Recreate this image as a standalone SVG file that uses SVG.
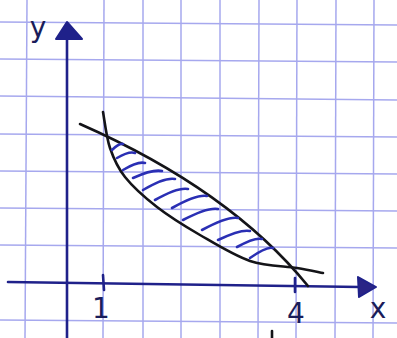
<svg xmlns="http://www.w3.org/2000/svg" width="397" height="338" viewBox="0 0 397 338">
<style>
.grid{stroke:#a6a8ee;stroke-width:1.5;fill:none}
.axis{stroke:#1f218a;stroke-width:2.6;fill:none;stroke-linecap:round}
.curve{stroke:#141418;stroke-width:2.6;fill:none;stroke-linecap:round}
.hatch{stroke:#2a2fb4;stroke-width:2.6;fill:none;stroke-linecap:round}
.lbl{font-family:"DejaVu Sans","Liberation Sans",sans-serif;fill:#1a1c5a;text-anchor:middle}
</style>
<rect width="397" height="338" fill="#ffffff"/>
<g id="grid">
<line class="grid" x1="27" y1="0" x2="25" y2="338"/>
<line class="grid" x1="104" y1="0" x2="103" y2="338"/>
<line class="grid" x1="143" y1="0" x2="143" y2="338"/>
<line class="grid" x1="181" y1="0" x2="181" y2="338"/>
<line class="grid" x1="220" y1="0" x2="220" y2="338"/>
<line class="grid" x1="259" y1="0" x2="258" y2="338"/>
<line class="grid" x1="297" y1="0" x2="296" y2="338"/>
<line class="grid" x1="336" y1="0" x2="335" y2="338"/>
<line class="grid" x1="374" y1="0" x2="373" y2="338"/>
<line class="grid" x1="0" y1="22" x2="397" y2="25"/>
<line class="grid" x1="0" y1="59" x2="397" y2="62"/>
<line class="grid" x1="0" y1="96" x2="397" y2="100"/>
<line class="grid" x1="0" y1="134" x2="397" y2="137"/>
<line class="grid" x1="0" y1="171" x2="397" y2="174"/>
<line class="grid" x1="0" y1="208" x2="397" y2="211"/>
<line class="grid" x1="0" y1="245" x2="397" y2="248"/>
<line class="grid" x1="0" y1="320" x2="397" y2="323"/>
</g>
<g id="axes">
<line class="axis" x1="67" y1="32" x2="67" y2="338"/>
<path d="M56,39 L67,22 L82,39 Z" fill="#1f218a" stroke="#1f218a" stroke-width="2" stroke-linejoin="round"/>
<line class="axis" x1="8" y1="282" x2="360" y2="287"/>
<path d="M358,277 L376,287 L359,297 Z" fill="#2a2486" stroke="#1f218a" stroke-width="2" stroke-linejoin="round"/>
<line class="axis" x1="103" y1="275" x2="104" y2="290"/>
<line class="axis" x1="295" y1="278" x2="295" y2="292"/>
<line class="curve" x1="272" y1="331" x2="272" y2="338"/>
</g>
<g id="curves">
<path class="curve" d="M80,124 Q230,190 308,286"/>
<path class="curve" d="M103,112 C104.2,118 106.3,137.2 110,148 C113.7,158.8 117.2,167.2 125,177 C132.8,186.8 144.5,197.3 157,207 C169.5,216.7 184.5,226 200,235 C215.5,244 233.8,255.5 250,261 C266.2,266.5 284.8,266 297,268 C309.2,270 318.7,272.2 323,273"/>
</g>
<g id="hatching">
<path class="hatch" d="M112,150 Q119,143 123,144"/>
<path class="hatch" d="M117,158 Q129,151 135,153"/>
<path class="hatch" d="M123,170 Q138,161 145,163"/>
<path class="hatch" d="M133,178 Q153,169 162,171"/>
<path class="hatch" d="M143,190 Q165,177 175,179"/>
<path class="hatch" d="M155,200 Q178,187 188,189"/>
<path class="hatch" d="M172,208 Q197,194 207,196"/>
<path class="hatch" d="M183,220 Q208,207 218,209"/>
<path class="hatch" d="M202,230 Q228,216 238,218"/>
<path class="hatch" d="M218,240 Q241,229 250,231"/>
<path class="hatch" d="M237,247 Q255,237 262,239"/>
<path class="hatch" d="M250,258 Q267,246 273,248"/>
</g>
<g id="labels">
<text class="lbl" x="38" y="37" font-size="28">y</text>
<text class="lbl" x="101" y="318" font-size="28">1</text>
<text class="lbl" x="296" y="323" font-size="28">4</text>
<text class="lbl" x="378" y="318" font-size="28">x</text>
</g>
</svg>
